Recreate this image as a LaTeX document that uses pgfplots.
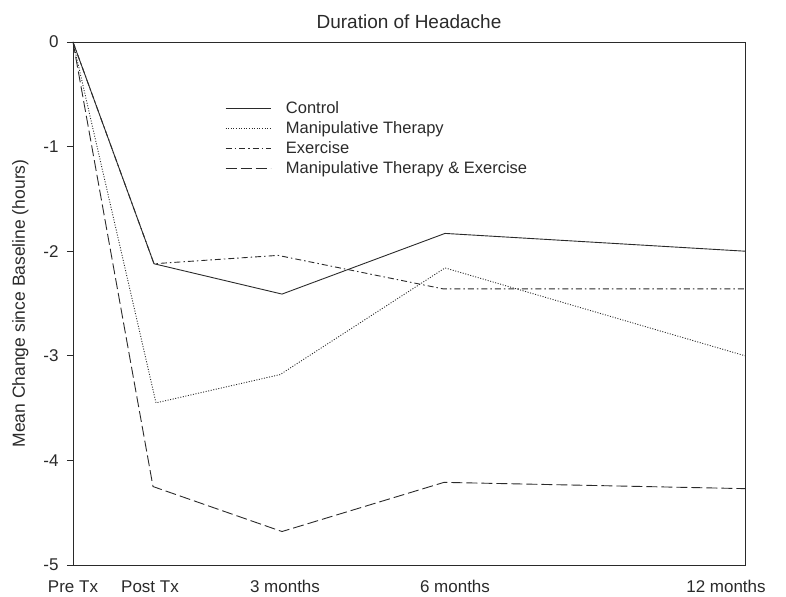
\documentclass[border=0pt]{standalone}
\usepackage{pgfplots}
\pgfplotsset{compat=1.18}
\usepackage{fontspec}
\setmainfont{Liberation Sans}
\definecolor{ink}{HTML}{2A2A2A}
\begin{document}
\begin{tikzpicture}
\begin{axis}[
  at={(0pt,0pt)}, anchor=south west,
  scale only axis,
  width=672pt, height=523pt,
  xmin=73, xmax=745, ymin=-5, ymax=0,
  axis line style={ink, line width=0.8pt},
  xtick={73,150,285,455,726},
  xticklabels={Pre Tx,Post Tx,3 months,6 months,12 months},
  x tick style={draw=none},
  ytick={-5,-4,-3,-2,-1,0},
  yticklabels={-5,-4,-3,-2,-1,0},
  y tick style={ink, line width=0.8pt},
  tick align=outside,
  major tick length=6pt,
  ytick pos=left,
  xtick pos=bottom,
  tick label style={font=\fontsize{17}{19}\selectfont, text=ink},
  xticklabel style={yshift=-6pt},
  yticklabel style={xshift=-5pt},
  title={Duration of Headache},
  title style={font=\fontsize{19}{21}\selectfont, text=ink, yshift=4pt},
  ylabel={Mean Change since Baseline (hours)},
  ylabel style={font=\fontsize{17.5}{19}\selectfont, text=ink, yshift=8pt},
  legend style={draw=none, fill=none, at={(0.226,0.89)}, anchor=north west,
    font=\fontsize{16.5}{18}\selectfont, text=ink, row sep=2.6pt, inner sep=0pt},
  legend cell align=left,
  legend image code/.code={\draw[#1] (0pt,0pt) -- (45pt,0pt); \path (58pt,0pt);},
  every axis plot/.append style={line width=0.9pt, color=ink},
]
\addplot[solid] coordinates {(73,0) (154,-2.12) (282,-2.41) (445,-1.83) (745,-2.00)};
\addlegendentry{Control}
\addplot[dash pattern=on 1pt off 1.6pt] coordinates {(73,0) (156,-3.45) (280,-3.18) (445,-2.16) (745,-3.00)};
\addlegendentry{Manipulative Therapy}
\addplot[dash pattern=on 6pt off 3pt on 1.5pt off 3pt] coordinates {(73,0) (154,-2.12) (278,-2.04) (443,-2.36) (745,-2.36)};
\addlegendentry{Exercise}
\addplot[dash pattern=on 11pt off 4pt] coordinates {(73,0) (153,-4.25) (282,-4.68) (444,-4.21) (745,-4.27)};
\addlegendentry{Manipulative Therapy \& Exercise}
\end{axis}
\path[use as bounding box] (-73pt,-31pt) rectangle (713pt,565pt);
\end{tikzpicture}
\end{document}
